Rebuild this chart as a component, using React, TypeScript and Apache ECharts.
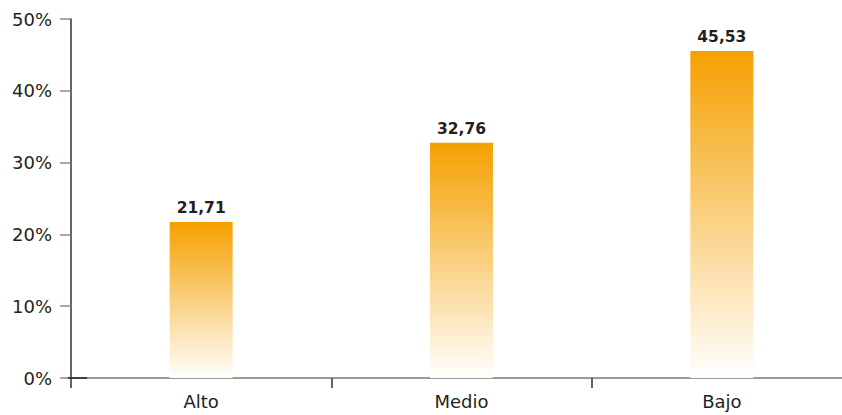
import React, { useEffect, useRef } from "react";
import * as echarts from "echarts";

const categories = ["Alto", "Medio", "Bajo"];
const values = [21.71, 32.76, 45.53];
const yTicks = [0, 10, 20, 30, 40, 50];

export default function App() {
  const ref = useRef<HTMLDivElement>(null);
  useEffect(() => {
    document.body.style.margin = "0";
    const chart = echarts.init(ref.current!, null, { renderer: "svg" });
    const font = "Verdana, 'DejaVu Sans', sans-serif";
    chart.setOption({
      animation: false,
      grid: { left: 71, right: 0, top: 19, bottom: 37, containLabel: false },
      xAxis: {
        type: "category",
        data: categories,
        axisLine: { lineStyle: { color: "#7a7a7a", width: 1.5 } },
        axisTick: { show: true, alignWithLabel: false, length: 10, lineStyle: { color: "#333", width: 1.5 } },
        axisLabel: { color: "#231f20", fontSize: 18, fontFamily: font, margin: 14 },
      },
      yAxis: {
        type: "value",
        min: yTicks[0],
        max: yTicks[yTicks.length - 1],
        interval: 10,
        splitLine: { show: false },
        axisLine: { show: true, lineStyle: { color: "#333", width: 1.5 } },
        axisTick: { show: true, length: 11, lineStyle: { color: "#888", width: 1.5 } },
        axisLabel: { color: "#231f20", fontSize: 18, fontFamily: font, margin: 19, formatter: "{value}%" },
      },
      graphic: [
        {
          type: "line",
          shape: { x1: 68, y1: 378, x2: 87, y2: 378 },
          style: { stroke: "#231f20", lineWidth: 1.5 },
          z: 100,
        },
      ],
      series: [
        {
          type: "bar",
          data: values,
          barWidth: 63,
          itemStyle: {
            color: new echarts.graphic.LinearGradient(0, 0, 0, 1, [
              { offset: 0, color: "#f5a000" },
              { offset: 1, color: "#ffffff" },
            ]),
          },
          label: {
            show: true,
            position: "top",
            distance: 6,
            color: "#231f20",
            fontWeight: "bold",
            fontSize: 15.5,
            fontFamily: font,
            formatter: (p: any) => p.value.toFixed(2).replace(".", ","),
          },
        },
      ],
    });
    return () => chart.dispose();
  }, []);
  return (
    <div style={{ width: 842, height: 415, overflow: "hidden", position: "relative" }}>
      <div ref={ref} style={{ width: 852, height: 415 }} />
    </div>
  );
}
